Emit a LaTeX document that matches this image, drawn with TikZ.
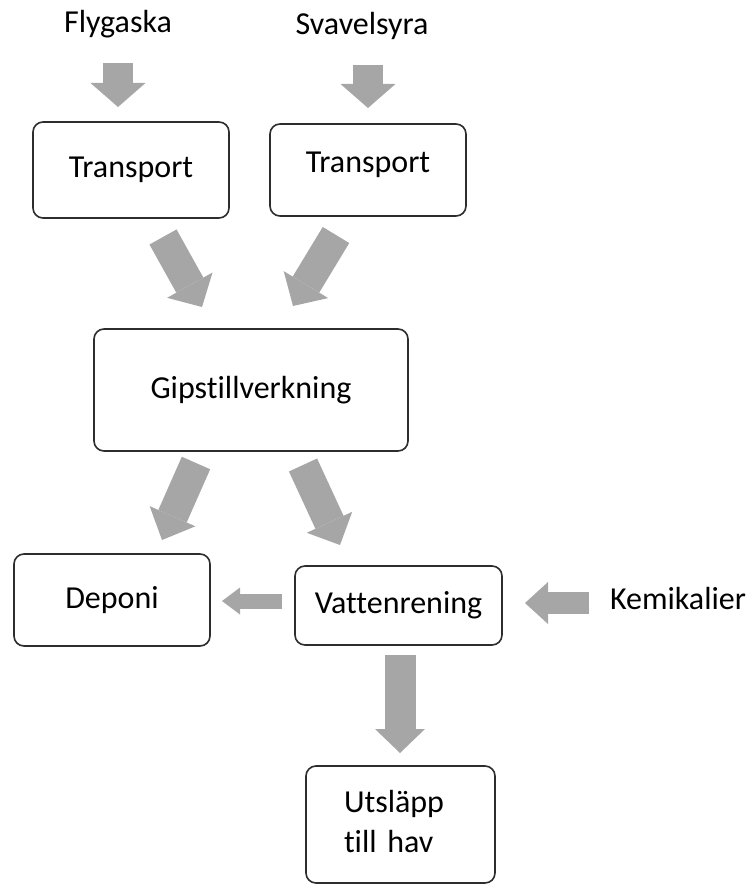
\documentclass[tikz,border=0pt]{standalone}
\usepackage{fontspec}
\setmainfont{Carlito}[Ligatures=NoCommon]
\usetikzlibrary{arrows.meta}
\definecolor{flowgray}{RGB}{166,166,166}
\definecolor{boxline}{RGB}{45,45,45}
\begin{document}
\begin{tikzpicture}[x=1pt,y=-1pt,
  txt/.style={font=\fontsize{32}{40}\selectfont},
  box/.style={txt, draw=boxline, line width=1.6pt, rounded corners=10pt,
              fill=white, inner sep=0pt},
  lbl/.style={txt, inner sep=0pt, anchor=base},
  flow/.style n args={3}{draw=flowgray, line width=#1,
              -{Triangle[width=#2, length=#3, line width=0pt]}}]
\useasboundingbox (0,0) rectangle (747,885);

% process boxes
\node[box, minimum width=196pt, minimum height=96pt] (t1) at (131,170) {Transport};
\node[box, minimum width=196pt, minimum height=92pt, text height=20pt, text depth=14pt]
  (t2) at (368,170) {Transport};
\node[box, minimum width=314pt, minimum height=122pt] (gips) at (251,390) {Gipstillverkning};
\node[box, minimum width=196pt, minimum height=92pt] (dep) at (112,600) {Deponi};
\node[box, minimum width=207pt, minimum height=79pt] (vat) at (398.5,605.5) {Vattenrening};
\node[box, minimum width=189pt, minimum height=117pt, text width=113pt, align=left,
      text height=22pt, text depth=47pt]
  (uts) at (400.5,824.5) {Utsläpp\\till hav};

% inputs
\node[lbl] (fly) at (118,33) {Flygaska};
\node[lbl] (sva) at (362,35) {Svavelsyra};
\node[lbl] (kem) at (678,609) {Kemikalier};

% block arrow end points
\coordinate (a1s) at (118,63);   \coordinate (a1e) at (118,107);
\coordinate (a2s) at (368,65);   \coordinate (a2e) at (368,108);
\coordinate (a3s) at (163,237);  \coordinate (a3e) at (202,307);
\coordinate (a4s) at (336,235);  \coordinate (a4e) at (293,306);
\coordinate (a5s) at (196,463);  \coordinate (a5e) at (162,540);
\coordinate (a6s) at (303,465);  \coordinate (a6e) at (340,545);
\coordinate (a7s) at (282,601);  \coordinate (a7e) at (222,601);
\coordinate (a8s) at (589,603);  \coordinate (a8e) at (525,603);
\coordinate (a9s) at (400,655);  \coordinate (a9e) at (400,753);

% flows
\draw[flow={30pt}{55pt}{24pt}] (a1s) -- (a1e);
\draw[flow={30pt}{55pt}{24pt}] (a2s) -- (a2e);
\draw[flow={31pt}{52pt}{25pt}] (a3s) -- (a3e);
\draw[flow={31pt}{52pt}{25pt}] (a4s) -- (a4e);
\draw[flow={31pt}{50pt}{26pt}] (a5s) -- (a5e);
\draw[flow={31pt}{50pt}{25pt}] (a6s) -- (a6e);
\draw[flow={15pt}{27pt}{18pt}] (a7s) -- (a7e);
\draw[flow={22pt}{42pt}{23pt}] (a8s) -- (a8e);
\draw[flow={31pt}{50pt}{24pt}] (a9s) -- (a9e);
\end{tikzpicture}
\end{document}
